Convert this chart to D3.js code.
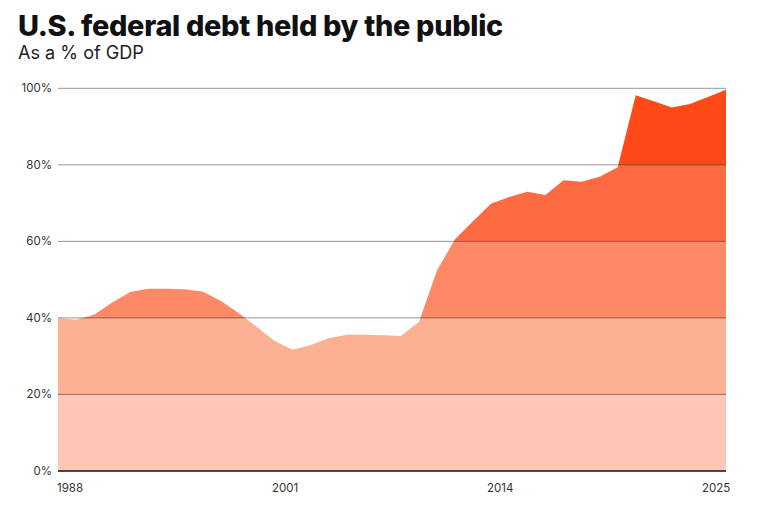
<!DOCTYPE html>
<html>
<head>
<meta charset="utf-8">
<script src="https://cdn.jsdelivr.net/npm/d3@7"></script>
<style>
  html, body { margin: 0; padding: 0; background: #fff; }
  svg { display: block; }
</style>
</head>
<body>
<svg id="chart" width="780" height="517"></svg>
<script>
// ---- Data ----
const years = [1988,1989,1990,1991,1992,1993,1994,1995,1996,1997,1998,1999,2000,2001,2002,2003,2004,2005,2006,2007,2008,2009,2010,2011,2012,2013,2014,2015,2016,2017,2018,2019,2020,2021,2022,2023,2024,2025];
const debtPct = [39.9,39.5,40.8,44.0,46.8,47.6,47.6,47.5,46.9,44.5,41.3,37.7,34.0,31.7,32.9,34.7,35.6,35.6,35.5,35.3,39.0,52.5,60.6,65.3,69.9,71.6,73.0,72.1,76.0,75.6,76.9,79.4,98.2,96.6,95.0,95.9,97.7,99.6];
const yTicks = [0,20,40,60,80,100];
const xTickLabels = ["1988","2001","2014","2025"];
const bandColors = ["#fdc6b7","#fbb092","#fd8967","#fe6a41","#ff4a18"];

const title = "U.S. federal debt held by the public";
const subtitle = "As a % of GDP";

(function () {
const svg = d3.select("#chart");
const mLeft = 58, mRight = 726, mTop = 88.3, mBottom = 471;

const x = d3.scaleLinear().domain([years[0], years[years.length-1]]).range([mLeft, mRight]);
const y = d3.scaleLinear().domain([0, 100]).range([mBottom, mTop]);

const data = years.map((yr, i) => ({year: yr, v: debtPct[i]}));

// Title
const t = svg.append("text")
  .attr("x", 18).attr("y", 36)
  .attr("font-family", "Inter, 'Noto Sans', sans-serif")
  .attr("font-weight", 800)
  .attr("font-size", 26)
  .attr("fill", "#111")
  .attr("letter-spacing", "-0.3")
  .text(title);
const tw = t.node().getComputedTextLength();
if (tw > 0) t.attr("font-size", 26 * 484 / tw);

const st = svg.append("text")
  .attr("x", 18).attr("y", 59)
  .attr("font-family", "Inter, 'Noto Sans', sans-serif")
  .attr("font-size", 16)
  .attr("fill", "#222")
  .text(subtitle);
const sw = st.node().getComputedTextLength();
if (sw > 0) st.attr("font-size", 16 * 126 / sw);

// Clip path from area
const area = d3.area()
  .x(d => x(d.year))
  .y0(y(0))
  .y1(d => y(d.v))
  .curve(d3.curveLinear);

svg.append("clipPath").attr("id", "areaClip")
  .append("path").attr("d", area(data));

// Bands
const bands = d3.range(5).map(i => ({lo: i*20, hi: (i+1)*20, color: bandColors[i]}));
svg.append("g").attr("clip-path", "url(#areaClip)")
  .selectAll("rect").data(bands).join("rect")
  .attr("x", mLeft).attr("width", mRight - mLeft)
  .attr("y", d => y(d.hi)).attr("height", d => y(d.lo) - y(d.hi))
  .attr("fill", d => d.color);

// Gridlines
svg.append("g").selectAll("line").data(yTicks.filter(d => d > 0)).join("line")
  .attr("x1", mLeft).attr("x2", mRight)
  .attr("y1", d => y(d)).attr("y2", d => y(d))
  .attr("stroke", "#000").attr("stroke-opacity", 0.42).attr("stroke-width", 1);

// Baseline
svg.append("line")
  .attr("x1", mLeft).attr("x2", mRight)
  .attr("y1", y(0)).attr("y2", y(0))
  .attr("stroke", "#111").attr("stroke-width", 1.5);

// Y labels
svg.append("g").selectAll("text").data(yTicks).join("text")
  .attr("x", 52).attr("y", d => y(d) + 4)
  .attr("text-anchor", "end")
  .attr("font-family", "Inter, 'Noto Sans', sans-serif")
  .attr("font-size", 11.5)
  .attr("fill", "#333")
  .text(d => d + "%");

// X labels (evenly spaced)
const xl = d3.scalePoint().domain(xTickLabels).range([57, 702]);
svg.append("g").selectAll("text").data(xTickLabels).join("text")
  .attr("x", d => xl(d)).attr("y", 492)
  .attr("font-family", "Inter, 'Noto Sans', sans-serif")
  .attr("font-size", 11.5)
  .attr("fill", "#333")
  .text(d => d);
})();
</script>
</body>
</html>
